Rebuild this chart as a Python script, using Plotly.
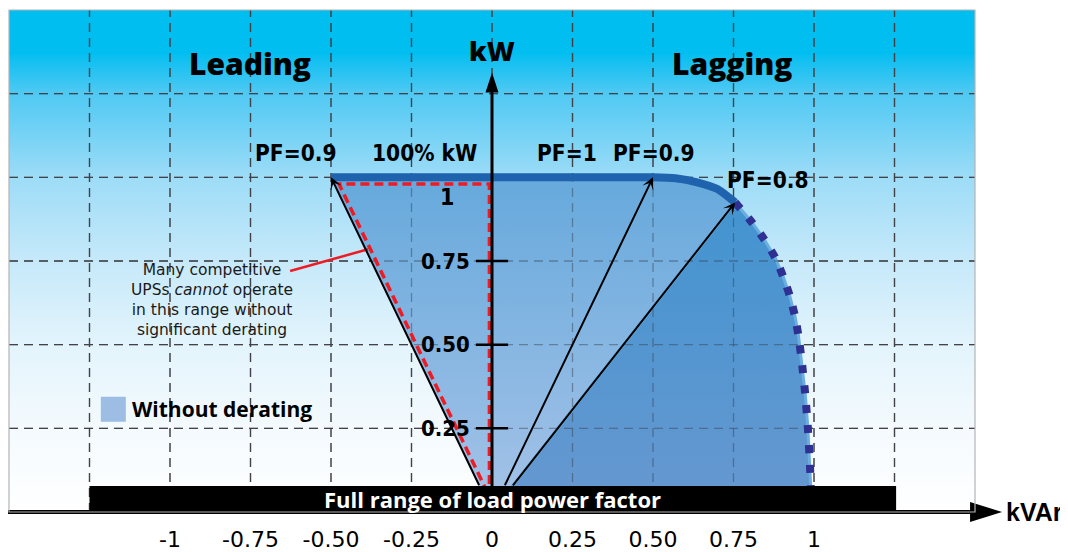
import plotly.graph_objects as go

# ---------------- data ----------------
kvar_tick_vals = [-1, -0.75, -0.5, -0.25, 0, 0.25, 0.5, 0.75, 1]
kvar_tick_text = ["-1", "-0.75", "-0.50", "-0.25", "0", "0.25", "0.50", "0.75", "1"]
kw_tick_vals = [0.75, 0.5, 0.25]
kw_tick_text = ["0.75", "0.50", "0.25"]
grid_x = [-1.25, -1.0, -0.75, -0.5, -0.25, 0.0, 0.25, 0.5, 0.75, 1.0, 1.25]
grid_y = [0.25, 0.5, 0.75, 1.0, 1.25]

# operating boundary (kVAr, kW)
boundary_x = [-0.5, 0.5, 0.57, 0.637, 0.70, 0.755, 0.807, 0.845, 0.879, 0.904,
              0.925, 0.941, 0.952, 0.962, 0.973, 0.981, 0.987, 0.99, 0.99]
boundary_y = [1.0, 1.0, 0.997, 0.985, 0.965, 0.925, 0.866, 0.815, 0.761, 0.704,
              0.645, 0.585, 0.525, 0.45, 0.35, 0.25, 0.15, 0.07, 0.0]
pf08_index = 5  # boundary point where PF=0.8 is reached

# power-factor vectors (tip points)
pf_vec_x = [-0.5, 0.5, 0.755]
pf_vec_y = [1.0, 1.0, 0.925]

# competitor restricted zone (red dashed)
red_x = [-0.008, -0.008, -0.475, -0.008]
red_y = [0.0, 0.98, 0.98, 0.046]
red_ptr_x = [-0.627, -0.385]
red_ptr_y = [0.720, 0.785]

# text labels
top_labels = ["Leading", "Lagging"]
top_labels_x = [-0.752, 0.748]
top_labels_y = [1.34, 1.34]
pf_text = ["PF=0.9", "100% kW", "PF=1", "PF=0.9", "PF=0.8"]
pf_text_x = [-0.61, -0.211, 0.233, 0.502, 0.857]
pf_text_y = [1.072, 1.072, 1.072, 1.072, 0.991]
note_text = "Many competitive<br>UPSs <i>cannot</i> operate<br>in this range without<br>significant derating"
legend_text = "Without derating"
bar_text = "Full range of load power factor"

X_RANGE = [-1.5, 1.5]
Y_RANGE = [0.0, 1.5]
X_AXIS_END = 1.584
Y_AXIS_END = 1.313
BAR_X = [-1.25, 1.255]
BAR_TOP = 0.078

# page body has an 8px margin, so the figure is a little smaller than the window
W, H = 1060, 544
M = dict(l=1, r=93, t=2, b=40)
PW = W - M["l"] - M["r"]
PH = H - M["t"] - M["b"]

COND = "DejaVu Sans Condensed, Liberation Sans Narrow, sans-serif"
SANS = "Open Sans, Roboto, Liberation Sans, sans-serif"
WIDE = "DejaVu Sans, Liberation Sans, sans-serif"
ARIAL = "Liberation Sans, Arial, sans-serif"

fig = go.Figure()

# background gradient
fig.add_trace(go.Scatter(
    x=[X_RANGE[0], X_RANGE[1], X_RANGE[1], X_RANGE[0], X_RANGE[0]],
    y=[Y_RANGE[0], Y_RANGE[0], Y_RANGE[1], Y_RANGE[1], Y_RANGE[0]],
    mode="lines", line=dict(width=0), fill="toself",
    fillgradient=dict(type="vertical", start=Y_RANGE[0], stop=Y_RANGE[1],
                      colorscale=[[0, "#ffffff"], [0.1667, "#f4fafe"], [0.333, "#e3f4fc"],
                                  [0.5, "#c6e9fa"], [0.667, "#9ddcf7"], [0.833, "#50c9f3"],
                                  [0.9, "#12c0f1"], [0.915, "#00bef0"], [1, "#00bef0"]]),
    hoverinfo="skip", showlegend=False))


def grid_xy():
    gx, gy = [], []
    for v in grid_x:
        gx += [v, v, None]
        gy += [Y_RANGE[0], Y_RANGE[1], None]
    for v in grid_y:
        gx += [X_RANGE[0], X_RANGE[1], None]
        gy += [v, v, None]
    return gx, gy


gx, gy = grid_xy()
fig.add_trace(go.Scatter(x=gx, y=gy, mode="lines",
                         line=dict(color="#4a4a4a", width=1.3, dash="9px,6px"),
                         hoverinfo="skip", showlegend=False))

# light region (leading + lagging up to PF=0.8)
lx = [0] + boundary_x[:pf08_index + 1] + [0]
ly = [0] + boundary_y[:pf08_index + 1] + [0]
fig.add_trace(go.Scatter(x=lx, y=ly, mode="lines", line=dict(width=0), fill="toself",
                         fillgradient=dict(type="vertical", start=0, stop=1.0,
                                           colorscale=[[0, "#a6c3e8"], [1, "#66a9dc"]]),
                         hoverinfo="skip", showlegend=False))
# dark region (beyond PF=0.8)
dx = [0] + boundary_x[pf08_index:] + [0]
dy = [0] + boundary_y[pf08_index:] + [0]
fig.add_trace(go.Scatter(x=dx, y=dy, mode="lines", line=dict(width=3, color="#6aaee2"),
                         fill="toself",
                         fillgradient=dict(type="vertical", start=0, stop=0.93,
                                           colorscale=[[0, "#6898d0"], [1, "#4294d0"]]),
                         hoverinfo="skip", showlegend=False))

# grid over fills (semi transparent)
fig.add_trace(go.Scatter(x=gx, y=gy, mode="lines",
                         line=dict(color="rgba(55,60,70,0.45)", width=1.3, dash="9px,6px"),
                         hoverinfo="skip", showlegend=False))

# red dashed restricted zone
fig.add_trace(go.Scatter(x=red_x, y=red_y, mode="lines",
                         line=dict(color="#ed1c24", width=3.5, dash="9px,5px"),
                         hoverinfo="skip", showlegend=False))
fig.add_trace(go.Scatter(x=red_ptr_x, y=red_ptr_y, mode="lines",
                         line=dict(color="#ed1c24", width=2.5),
                         hoverinfo="skip", showlegend=False))

# solid boundary (100% kW to PF=0.8)
fig.add_trace(go.Scatter(x=boundary_x[:pf08_index + 1], y=boundary_y[:pf08_index + 1],
                         mode="lines", line=dict(color="#1f62ad", width=8, shape="spline",
                                                 smoothing=0.6),
                         hoverinfo="skip", showlegend=False))
# dotted boundary (beyond PF=0.8)
fig.add_trace(go.Scatter(x=boundary_x[pf08_index:], y=boundary_y[pf08_index:],
                         mode="lines", line=dict(color="#2e3192", width=8, dash="8px,12px",
                                                 shape="spline", smoothing=0.6),
                         hoverinfo="skip", showlegend=False))

# legend swatch
fig.add_trace(go.Scatter(x=[-1.176], y=[0.307], mode="markers",
                         marker=dict(symbol="square", size=25, color="#9dbde5",
                                     line=dict(width=0)),
                         hoverinfo="skip", showlegend=False))


def px_x(v):
    return (v - X_RANGE[0]) / (X_RANGE[1] - X_RANGE[0])


shapes = []
# black bar
shapes.append(dict(type="rect", xref="x", yref="y", x0=BAR_X[0], x1=BAR_X[1],
                   y0=Y_RANGE[0], y1=BAR_TOP, fillcolor="black", line=dict(width=0),
                   layer="above"))
# kW axis
head_len_y = 20 / PH * (Y_RANGE[1] - Y_RANGE[0])
head_hw_x = 6.5 / PW * (X_RANGE[1] - X_RANGE[0])
shapes.append(dict(type="line", xref="x", yref="y", x0=0, x1=0, y0=0,
                   y1=Y_AXIS_END - head_len_y + 0.01, line=dict(color="black", width=3),
                   layer="above"))
shapes.append(dict(type="path", xref="x", yref="y",
                   path=f"M 0,{Y_AXIS_END} L {head_hw_x},{Y_AXIS_END - head_len_y} "
                        f"L {-head_hw_x},{Y_AXIS_END - head_len_y} Z",
                   fillcolor="black", line=dict(width=0), layer="above"))
# kW tick marks
for v in kw_tick_vals:
    shapes.append(dict(type="line", xref="x", yref="y", x0=-0.05, x1=0.05, y0=v, y1=v,
                       line=dict(color="black", width=2.5), layer="above"))
# kVAr axis (paper coordinates, extends beyond plot)
tip = px_x(X_AXIS_END)
hl = 32 / PW
hw = 10 / PH
shapes.append(dict(type="line", xref="paper", yref="paper", x0=-0.002, x1=tip - hl + 0.002,
                   y0=0, y1=0, line=dict(color="black", width=4), layer="above"))
shapes.append(dict(type="path", xref="paper", yref="paper",
                   path=f"M {tip},0 L {tip - hl},{hw} L {tip - hl},{-hw} Z",
                   fillcolor="black", line=dict(width=0), layer="above"))
# plot frame
shapes.append(dict(type="rect", xref="paper", yref="paper", x0=0, x1=1, y0=0, y1=1,
                   line=dict(color="#b4b4b4", width=1.2), fillcolor="rgba(0,0,0,0)",
                   layer="above"))

annotations = []
# PF vectors
standoffs = [28, 28, 32]
for xv, yv, so in zip(pf_vec_x, pf_vec_y, standoffs):
    annotations.append(dict(x=xv, y=yv, ax=0, ay=0, xref="x", yref="y", axref="x", ayref="y",
                            showarrow=True, arrowhead=3, arrowsize=1.0, arrowwidth=2,
                            arrowcolor="black", startstandoff=so, text=""))
for t, xv, yv in zip(top_labels, top_labels_x, top_labels_y):
    annotations.append(dict(x=xv, y=yv, xref="x", yref="y", text=t, showarrow=False,
                            font=dict(family=SANS, size=30, color="black", weight=800)))
annotations.append(dict(x=0, y=1.379, xref="x", yref="y", text="kW", showarrow=False,
                        font=dict(family=SANS, size=27, color="black", weight=800)))
for t, xv, yv in zip(pf_text, pf_text_x, pf_text_y):
    annotations.append(dict(x=xv, y=yv, xref="x", yref="y", text=t, showarrow=False,
                            font=dict(family=COND, size=22.5, color="black", weight="bold")))
annotations.append(dict(x=-0.14, y=0.94, xref="x", yref="y", text="1", showarrow=False,
                        font=dict(family=COND, size=23, color="black", weight="bold")))
for t, v in zip(kw_tick_text, kw_tick_vals):
    annotations.append(dict(x=-0.062, y=v, xref="x", yref="y", text=t, showarrow=False,
                            xanchor="right", yanchor="middle",
                            font=dict(family=COND, size=22, color="black", weight="bold")))
annotations.append(dict(x=-0.87, y=0.633, xref="x", yref="y", text=note_text, showarrow=False,
                        align="center", font=dict(family=WIDE, size=15.5, color="#1a1a1a")))
annotations.append(dict(x=-1.124, y=0.307, xref="x", yref="y", text=legend_text,
                        showarrow=False, xanchor="left",
                        font=dict(family=SANS, size=21, color="black", weight="bold")))
annotations.append(dict(x=0, y=BAR_TOP / 2, xref="x", yref="y", text=bar_text,
                        showarrow=False,
                        font=dict(family=SANS, size=22, color="white", weight="bold")))
annotations.append(dict(x=tip + 0.002, y=0, xref="paper", yref="paper", text="kVAr",
                        showarrow=False, xanchor="left", yanchor="middle",
                        font=dict(family=ARIAL, size=25, color="black", weight="bold")))

fig.update_layout(
    width=W, height=H, margin=M,
    paper_bgcolor="white", plot_bgcolor="white",
    showlegend=False,
    shapes=shapes, annotations=annotations,
    xaxis=dict(range=X_RANGE, showgrid=False, zeroline=False, showline=False,
               tickvals=kvar_tick_vals, ticktext=kvar_tick_text, automargin=False,
               ticks="outside", ticklen=8, tickcolor="rgba(0,0,0,0)",
               tickfont=dict(family=WIDE, size=22, color="black"), fixedrange=True),
    yaxis=dict(range=Y_RANGE, showgrid=False, zeroline=False, showline=False,
               showticklabels=False, ticks="", fixedrange=True, automargin=False),
)

fig.write_html("out.html")
